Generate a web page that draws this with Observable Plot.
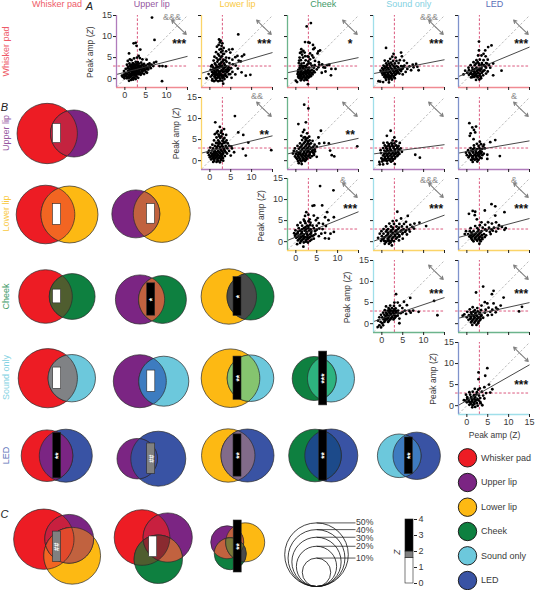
<!DOCTYPE html>
<html><head><meta charset="utf-8">
<script src="https://cdn.jsdelivr.net/npm/d3@7"></script>
<script src="https://cdn.jsdelivr.net/npm/@observablehq/plot@0.6"></script>
<style>html,body{margin:0;padding:0;background:#fff}#fig{position:relative;width:535px;height:590px;overflow:hidden}#fig svg{position:absolute;overflow:visible;max-width:none}</style>
</head><body><div id="fig"></div>
<script>
const regions=["Whisker pad","Upper lip","Lower lip","Cheek","Sound only","LED"];
const fills=["#ed1c24","#7b2583","#fdb913","#0e8040","#6cc8dc","#3953a4"];
const headColors=["#ee5a68","#96589f","#f9c93f","#3f9a68","#84d2e2","#5a70b8"];
const axisColors=["#f08a92","#b07cbc","#fbd468","#6cb48c","#a0dfea","#7f92cc"];

const p01=[6.5,14.5,7.1,9.2,2.1,8.4,2.6,8.5,2.8,7.8,3.7,6.9,1,6,3.3,5.4,2.9,5,3.6,4.9,1.2,4.6,.7,4.2,1.6,4.4,2.2,4.8,4.2,4.6,5.2,4.5,3.9,3.8,2.6,4,1.9,3.7,1.1,3.6,.5,3.3,3.1,3.9,2.4,3.4,1.5,3.1,.8,2.8,.2,2.3,-.2,1.8,-.7,.7,-.5,.4,-.1,.1,.3,.6,.6,1.1,.9,1.5,1.2,2.1,1.6,2.5,2,2.9,2.5,3,3,3.2,3.4,3,3.8,3.1,4.2,3.3,4.6,3.5,5,3.1,5.5,3.4,5.9,3.6,6.4,3.3,7,3.8,7.5,4,8.3,3,9,3,9.8,2.9,8.9,-.6,6.2,2.5,5.6,2.2,5.2,2.7,4.8,2,4.4,2.4,4,1.8,3.6,2.2,3.2,2.6,2.8,2,2.4,2.3,2,1.8,1.6,1.6,1.3,1.1,.9,.6,.5,.1,1,.2,1.4,.5,1.8,.9,2.2,1.3,2.6,1.5,3,1.2,3.4,1.6,3.8,.9,4.2,1.3,4.6,1.1,5,1.6,2,.3,2.4,.7,2.8,.5,3.2,.2,1.5,-.3,1,-.5,2,-.2,2.6,-.1,.2,1.3,1.8,2.2,2.2,2.7,2.9,2.5,3.3,1.9,3.7,1.4,1,2.4,1.4,1.9,4.5,2.9,1.7,3.3,2.2,3.2,6.8,3,5.3,1.4,1.15,1.75,1.75,1.25,2.35,1.75,2.95,1.55,3.45,2.35,3.95,2.65,4.35,1.85,1.05,.95,1.55,.75,2.15,.95,2.75,.85,3.35,1.05,.75,1.85,.35,.85,.05,.65,-.25,.95,1.35,2.85,1.85,2.65,2.55,2.55,3.05,2.95,3.65,2.75,4.15,2.15,4.75,2.55,5.35,2.25,5.75,2.85,6.05,3.05,2.05,3.55,2.85,3.45,3.35,3.55,1.25,3.15,.65,2.45,1.65,2.05,2.15,2.25,3.15,1.75,2.45,1.15,1.95,1.45,1.25,.35,1.75,-.05,2.35,.15,.65,.35];
const p02=[6.8,10.5,2.2,9.3,2.6,9,2.4,8.6,3,8.4,2.1,8,2.8,7.8,1.7,7.6,3.3,7.3,5.4,7,4.6,6.9,2.3,6.9,3.9,6.5,1.5,6.3,2.7,6.3,4.9,6.2,3.4,5.9,2,5.8,6.6,5.4,6.1,5.1,1.1,5.2,2.9,5.3,3.9,5,8.2,5.7,7.7,5.3,4.6,4.9,1.6,4.9,2.4,4.6,3.3,4.5,5.4,4.5,.9,4.3,6.9,4.3,7.4,4.1,4,4,1.8,4,2.8,3.9,3.4,3.6,4.7,3.7,1.2,3.6,.5,3.2,2.2,3.4,5.5,3.4,6.2,3.1,2.9,3.1,1.6,3,3.9,2.9,.8,2.7,4.5,2.7,5.1,2.5,6.7,2.4,2.3,2.6,1.2,2.3,.2,2.1,3.3,2.3,3.9,2.1,1.8,2.1,2.8,2,4.4,1.8,5.4,1.6,.5,1.6,1.3,1.5,2.2,1.6,3.2,1.5,7.6,1.5,-.3,1.1,.8,1.1,1.7,1,2.6,1.1,3.7,1.1,4.9,1.1,6.1,1,8.6,.7,9.7,.9,.2,.5,1.1,.5,2,.5,3,.6,4.1,.4,5.2,.2,-.8,.1,.6,-.1,1.5,0,2.5,0,3.5,-.1,1,-.6,2,-.6,3,-.5,3.2,-1.2,1.6,1.9,2.6,2.8,3.6,3.2,.3,2.9,1.2,1,2.1,1.2,3,.2,1.8,.2,2.4,.7,1.05,1.85,1.55,1.45,2.05,1.85,2.55,1.65,3.05,1.85,3.55,1.75,4.05,1.55,1.35,.75,1.85,.75,2.35,.85,2.85,.85,3.35,.75,3.85,.65,.55,.85,.95,1.35,1.45,2.55,1.95,2.75,2.45,3.15,3.05,2.65,3.55,2.65,4.25,2.35,4.65,2.15,.75,2.15,1.35,3.35,2.55,3.65,3.15,4.25,3.75,4.35,1.95,4.45,2.65,5.05,2.25,5.45,3.15,5.85,2.65,7.05,3.05,6.65,1.25,.25,2.25,.25,3.25,.35,.55,-.45,1.45,-.35,2.45,-.45,4.55,1.05];
const p03=[3.6,13.2,2.6,12.4,3,8.6,2.2,8.7,3.3,8.5,4.1,8,4.5,7.3,5.8,6.7,5.4,6.5,1.3,7,1.8,6.6,4.2,7,5.2,6,2.1,6.2,1,6.1,3.4,6,1.5,5.7,2.8,5.3,3.9,5.5,.9,5,1.7,5,4.2,5,.8,4.3,1.2,4.4,3.4,4.6,3,4.1,4.6,4.2,5.5,3.9,.7,3.7,1.9,3.7,3.5,3.6,1,3.1,2,3,2.7,3.3,3.8,3.1,4.5,3.2,5.6,3.3,6.3,3.4,8,3.3,7.5,3.2,.9,2.6,1.6,2.6,2.5,2.7,3.2,2.6,4.3,2.6,5.4,2.7,6.6,2.7,7,2.6,8.5,2.3,9.5,2.3,.6,2.1,1.3,2.1,2.2,2.2,3,2.1,3.8,2.1,5,2.2,.5,1.6,1.1,1.6,1.9,1.6,2.7,1.6,3.5,1.6,4.5,1.5,6.2,1.4,8.4,.8,7.1,1.7,.4,1.1,.9,1.1,1.6,1.1,2.4,1.1,3.1,1.1,4,1,.6,.6,1.3,.6,2,.6,2.8,.6,3.6,.6,.9,.1,1.6,.2,2.3,.1,3,.2,0,-.5,.3,-.8,1.2,-.4,2,-.4,2.7,-.3,2.9,-1.3,1.8,2.5,2.9,1.9,1.35,1.85,1.75,2.35,2.35,1.85,2.85,2.35,3.35,1.85,1.15,1.35,1.65,1.35,2.15,1.35,2.65,1.35,3.15,1.35,3.75,1.25,.75,.85,1.25,.85,1.85,.85,2.55,.85,3.35,.85,1.05,.35,1.85,.35,2.55,.35,3.25,.45,.6,1.85,1,2.35,1.45,2.95,2.35,2.95,3.05,3.65,2.35,4.35,1.35,3.55,2.25,5.35,3.05,5.15,1.35,6.35,.65,.25,4.25,1.85,4.05,1.45,1.45,-.05,2.45,-.15];
const p04=[1,7.3,2.8,5.9,4.6,6.2,4.8,5.3,2.5,5.2,3.3,5,2,4.7,4.3,4.4,.7,4.3,1.5,4.1,2.7,4.2,3.5,4.2,5.3,4.3,2.2,3.8,3.1,3.6,4,3.7,6,3.7,7.4,3.3,8.2,3.5,.4,3.1,1.2,3.2,1.9,3.1,2.8,3,3.5,3,4.6,3,5.4,3.1,6.6,2.9,7.6,2.7,8.5,2.8,8.8,2,6.1,2.3,5,2.4,4.2,2.4,.1,2.5,.8,2.5,1.5,2.5,2.3,2.4,3.1,2.4,3.7,2.1,7,2,-.3,1.9,.4,1.9,1.1,2,1.8,1.9,2.6,1.9,4.6,1.8,5.7,1.6,0,1.4,.7,1.4,1.4,1.4,2.1,1.4,2.9,1.4,3.6,1.4,4.2,1.2,.2,.9,.9,.9,1.6,.9,2.4,.9,3.2,.9,5,1,.6,.4,1.3,.4,2,.4,2.8,.4,-.4,-.7,.3,-.8,1,-.3,1.7,-.2,2.4,-.2,3.1,.1,1.7,-.9,-.8,-.6,3.4,1.9,5.1,2.9,1.15,2.75,1.65,2.15,2.05,2.75,2.55,2.15,3.05,2.75,3.35,2.25,1.05,1.65,1.45,1.15,1.95,1.65,2.45,1.15,3.05,1.65,3.45,1.15,.55,1.15,.35,1.55,.75,.65,1.15,.65,1.75,.65,2.25,.65,2.85,.65,.9,.15,1.6,.15,2.25,.15,1.75,3.55,2.45,3.35,1.05,3.65,.35,2.25,.65,2.85,3.85,2.75,4.25,2.05,4.75,2.25,3.85,1.55];
const p05=[2.9,8.8,5.9,7.9,5.1,7.5,4.4,6.7,4,5.9,2.9,6.7,2.7,5.5,3.5,5.5,4.5,5.3,2.3,4.4,3.1,4.5,4,4.4,5,4.5,1.6,3.9,2.6,3.9,3.6,3.7,4.6,3.7,6.3,3.6,.9,3.2,1.9,3.2,3,3.2,4.1,3.2,5.3,3.2,.4,2.6,1.3,2.6,2.3,2.6,3.5,2.6,4.6,2.6,5.6,2.6,-.4,1.9,.5,2,1.4,2,2.5,2,3.2,1.9,4.2,2,5,1.7,8.3,1.9,.1,1.4,1,1.4,1.9,1.4,2.7,1.4,3.6,1.4,4.6,1.2,-.8,1,.5,.9,1.3,.9,2.1,.9,3,.8,3.9,.8,6.3,.8,1,.3,1.8,.4,2.6,.3,3.4,.1,2.2,-.3,3,-.2,2.9,2.3,1.7,1.7,1.15,1.85,1.85,2.25,2.35,1.75,2.85,2.15,3.45,2.25,3.85,1.75,1.55,1.05,2.35,1.15,3.15,1.15,.75,1.15,1.85,.65,2.45,.6,3.3,.5,2.85,3.55,3.55,3.35,4.35,2.95,4.85,3.55,2.15,3.55,1.35,.35];
const p12=[6,10.6,1.3,9.1,3.4,7.5,2.4,8,1.9,7,2.8,7.1,6.8,6.7,8,6.1,1.2,6.3,2.1,6.2,3.1,6.3,3.9,6.1,1.6,5.5,2.5,5.4,3.5,5.4,9.2,4.3,1,4.8,2,4.8,3,4.7,4,4.8,1.5,4.2,2.5,4.1,3.4,4.2,4.3,4.1,.6,3.8,1.2,3.5,2,3.5,2.9,3.5,3.8,3.5,4.6,3.5,5.1,3.4,.1,3.1,.8,2.9,1.6,2.9,2.4,2.9,3.3,2.9,4.2,2.9,5.3,2.9,7.9,2.8,-.2,2.4,.5,2.4,1.2,2.3,2,2.3,2.8,2.3,3.6,2.3,4.6,2.3,5.8,2,14.7,2.5,-.5,1.9,.2,1.8,.9,1.8,1.6,1.8,2.4,1.8,3.2,1.7,4.1,1.7,-.2,1.3,.5,1.3,1.2,1.3,2,1.3,2.8,1.2,3.6,1.1,8.6,1.2,0,.8,.8,.8,1.5,.8,2.3,.7,3.1,.6,.3,.3,1,.3,1.8,.2,2.6,.1,.8,-.3,1.6,-.3,2.4,-.4,3.2,0,5,1.2,1.05,2.05,1.55,2.05,2.25,2.05,2.65,2.55,3.05,2.05,3.45,2.55,.65,1.55,1.25,1.55,1.85,1.55,2.65,1.55,3.05,1.45,3.75,2.05,.35,1.05,.95,1.05,1.65,1.05,2.35,1.05,2.95,.85,.65,.55,1.25,.55,1.95,.55,2.65,.45,1.05,-.05,1.95,-.05,1.65,3.25,2.45,3.25,3.15,3.25,3.95,3.15,2.1,3.95,2.95,3.95,3.75,4.35,2.25,4.45,1.75,4.15,3.25,4.55,2.75,5.75,2.25,5.75,3.25,5.15,1.65,6.65,2.65,6.65];
const p13=[2,13.3,3,12.4,.6,8.7,2.4,9.1,6,7.1,2,7.3,1.7,6.8,2.7,6.5,1.3,5.9,2.2,5.6,3.2,5.7,5.4,5.5,1.5,4.9,2.5,4.8,3.3,4.8,4,4.7,5.6,4.1,6.8,4.2,7.9,4.1,1,4.1,1.9,4.1,2.8,4.1,3.6,4.1,4.5,3.8,.4,3.5,1.3,3.4,2.3,3.4,3.2,3.4,4.2,3.3,5,3.3,14.7,3.4,-.2,2.9,.7,2.8,1.6,2.8,2.6,2.8,3.5,2.8,4.5,2.7,-.5,2.3,.2,2.2,1.1,2.2,2,2.2,2.9,2.2,3.8,2.2,8.2,2.4,-.7,1.7,0,1.6,.8,1.6,1.6,1.6,2.4,1.6,3.3,1.6,4.3,1.7,8.6,1.3,9.2,1,-.2,1,.6,1,1.4,1,2.2,1,3,1,3.9,1.1,.3,.4,1.1,.4,1.9,.4,2.7,.5,.5,-.1,1.3,-.2,2.2,-.1,.7,-.6,1.4,-.8,5,.9,4.6,2.2,1.05,1.85,1.95,1.85,2.65,1.95,3.35,1.95,4.05,1.95,.45,1.35,1.15,1.35,1.85,1.3,2.55,1.3,3.25,1.3,.05,.7,.75,.7,1.65,.7,2.45,.7,3.45,.7,.9,.1,1.7,.1,2.45,.2,.45,1.95,1.35,2.45,2.35,2.55,3.05,2.55,4.05,2.45,1.05,3.15,1.95,3.05,2.85,3.05,3.75,3.05,1.55,3.75,2.55,3.75,3.25,3.95,2.15,4.45,2.95,4.55,2.35,5.05,1.85,5.45,2.75,5.35,4.35,1.35];
const p14=[2.1,7.1,1.2,5.9,3,5.5,2.6,4.8,3.4,4.6,.4,4.2,1.3,4.3,2.3,4.2,3,4.1,4.3,4.2,.7,3.6,1.6,3.6,2.5,3.5,3.4,3.6,4,3.5,.3,3,1,3,1.9,3,2.8,3,3.7,2.9,4.5,2.9,-.3,2.5,.6,2.4,1.4,2.4,2.2,2.4,3.1,2.4,3.9,2.3,4.8,2.1,-.2,1.8,.9,1.8,1.7,1.8,2.6,1.8,3.4,1.7,4.2,1.6,.3,1.2,1.2,1.2,2,1.2,2.9,1.2,3.7,1.1,8,1.4,-.1,.6,.7,.6,1.5,.6,2.3,.6,3.1,.5,9.1,.7,.9,.1,1.8,.1,2.6,0,-.6,-.3,.1,-.2,-.5,-.9,.3,-.9,1.3,-.7,3.1,-.8,1.05,2.15,1.85,2.15,2.55,2.15,3.25,2.05,3.95,1.95,.55,1.55,1.35,1.55,2.25,1.55,3.05,1.55,3.85,1.35,.75,.95,1.55,.95,2.45,.95,3.25,.85,1.05,.35,2,.35,2.65,.35,1.25,2.75,2.05,2.7,3.15,2.7,4.15,2.6,1.15,3.35,2,3.35,2.85,3.35,3.75,3.25,.15,.3,.55,.1,1.2,-.1,2.2,-.25,2.4,3.95,1.7,3.95];
const p15=[.6,8.9,2.2,8.1,1.3,7.9,1.7,7.3,.9,6.5,2,6.7,.7,5.9,1.6,5.1,6.8,4.9,5.6,4.4,3.1,4.5,2.4,4,3.4,3.9,4.1,3.8,1.7,3.6,2.8,3.5,3.9,3.4,.9,3,1.8,3,3,3,3.7,2.8,4.3,2.9,.3,2.5,1.1,2.4,2.1,2.4,3.2,2.3,-.2,1.9,.6,1.9,1.5,1.9,2.5,1.8,3.4,1.8,0,1.3,.9,1.3,1.8,1.3,2.7,1.3,3.7,1.3,4.9,1.4,7.9,1.1,.4,.8,1.3,.7,2.2,.7,3.1,.7,1,.2,1.9,.2,2.8,.2,4.9,.4,1.4,-.3,2.5,-.2,1.4,2.1,2.15,2.05,2.9,2,3.55,2.1,.6,1.1,1.4,1.05,2.25,1.05,3,1.05,3.5,.6,1.6,.45,2.4,.4,1.5,2.75,2.4,2.75,3.25,2.65,1.25,.2,.8,1.55,2.1,1.6,3,1.55,4.05,1.65];
const p23=[5.8,13.2,9,12.2,6.3,8.6,4,8.5,4.4,8.6,2.5,7,7.5,7,3,6.4,2.2,6.1,4.3,6.2,7,5.8,9.1,5.8,5.2,5.6,1.9,5.2,3.3,5.3,7.8,5.1,4.8,5.1,1.1,4.5,2.3,4.4,3.5,4.5,5.5,4.4,6.5,4.2,.4,3.9,1.5,3.8,2.7,3.8,4,3.8,5,3.8,7.2,3.7,.7,3.2,1.9,3.2,3,3.2,4.3,3.2,5.6,3.1,6.4,3,-.1,2.7,1,2.6,2.1,2.6,3.2,2.6,4.6,2.5,9.1,2.3,8.3,1.9,7,2.1,6.1,1.9,-.4,2,.4,2,1.4,2,2.5,2,3.6,2,4.7,1.8,-.2,1.4,.7,1.4,1.7,1.4,2.8,1.4,3.9,1.3,5.5,1.3,7.9,.7,7,.8,.1,.9,1,.8,2,.8,3,.8,4.3,.7,.5,.3,1.4,.3,2.4,.3,3.4,.2,1,-.3,1.9,-.2,2.9,-.2,1.8,-1.2,.3,-.6,3,3.7,1.3,1.1,1.15,1.7,1.95,1.7,2.75,1.7,3.45,1.7,.45,1.15,1.25,1.15,2.25,1.1,3.35,1.05,.75,.55,1.7,.55,2.7,.55,3.75,.5,1.45,2.3,2.6,2.3,3.7,2.35,1.45,2.9,2.45,2.9,3.55,2.9,5,2.8,1.2,.05,2.4,0,4.25,1.5,.05,1.75,2.3,3.45,3.4,3.95,2.1,4.85,3.05,4.85,2.75,1,1.9,1.05,.5,2.35];
const p24=[3.7,7.1,6.2,6.1,4.6,5.5,2.6,4.9,3.5,5,5.8,4.7,9,4.5,7.8,4.3,1.8,4.3,2.9,4.2,4.2,4.2,5.3,4.2,6.8,4,10.6,3.7,1,3.6,2.2,3.6,3.5,3.6,4.8,3.6,6,3.5,7.3,3.5,.4,3,1.5,3,2.7,3,3.9,3,5.2,3,6.5,2.9,7.7,3.1,-.1,2.5,1,2.4,2.1,2.4,3.2,2.4,4.4,2.4,5.6,2.3,6.7,2.4,-.5,1.9,.4,1.9,1.5,1.9,2.6,1.9,3.7,1.9,4.9,1.8,6,1.7,-.9,.9,0,1.3,1,1.3,2,1.3,3.1,1.3,4.2,1.2,.4,.7,1.4,.7,2.4,.7,3.4,.7,-.2,.2,.9,.1,1.9,.1,2.9,.1,4.1,.3,.7,-.5,1.7,-.5,2.4,-.9,5,.7,1.35,1.6,2.25,1.6,3.2,1.6,4.15,1.55,.6,1,1.7,1,2.7,1,3.7,1,.5,.2,1.45,.2,2.4,.3,1.5,2.15,2.6,2.15,3.75,2.15,5,2.1,1.2,2.75,2.25,2.7,3.45,2.7,4.7,2.7,5.8,2.7,2.6,3.35,4.1,3.3,1.55,.55,1,-.1,2.1,-.2,.1,.6];
const p25=[5.9,8.9,9,7,6.8,8.4,.5,6.6,1.4,7.3,2,7.1,1.9,6.3,4.3,7.4,6.8,6.2,2.4,5.3,3.5,4.6,5.1,4.6,7,4.6,6,4.3,4.4,4,3.1,3.9,2,3.7,7.7,3.9,8.4,3.5,9.3,3.2,.9,3.2,2.5,3.2,3.8,3.3,5.3,3.3,6.5,3.3,7.5,3.1,9,2.8,-.2,2.5,.7,2.5,1.6,2.5,2.6,2.4,3.5,2.5,4.7,2.6,6.2,2.6,7,2.4,-.5,1.8,.3,1.8,1.2,1.8,2,1.8,3,1.9,4.1,1.8,5.7,1.8,.6,1.2,1.4,1.2,2.3,1.2,3.2,1.2,4.3,1.1,1.1,.7,1.9,.7,2.8,.7,3.7,.6,1.6,.1,2.5,.2,3.3,.1,3,-.5,.9,1.55,1.7,1.5,2.6,1.55,3.6,1.55,4.6,1.5,1,.95,2,.95,2.95,1,3.7,.95,1.3,.4,2.3,.45,3.1,.45,1.1,2.15,2.3,2.1,3.3,2.2,5.5,2.3,5.9,2.9,4.4,2.9,2.8,2.8];
const p34=[3.4,7,6.8,6.1,5.3,5.2,3,5,3.8,5,6,4.4,2,4.3,1,4.1,2.9,4.2,4.3,4.3,1.6,3.7,2.4,3.7,3.3,3.6,4.9,3.7,.7,3.2,1.4,3.1,2.2,3.1,3,3.1,3.9,3.1,5.5,3.1,6.6,3,7.5,3.1,12.5,5.4,13.3,2,8.8,2.8,6.9,2.6,.3,2.6,1,2.6,1.8,2.6,2.6,2.6,3.4,2.6,4.5,2.5,5.8,2.3,-.2,2.1,.6,2.1,1.3,2.1,2.1,2.1,2.9,2,3.8,1.9,-.6,1.5,.1,1.5,.9,1.6,1.6,1.6,2.4,1.5,3.2,1.5,4.2,1.2,.4,1,1.2,1,2,1,2.8,1,-.9,.7,-.3,.4,.6,.4,1.5,.4,4.2,.1,-.6,-.4,.3,-.4,-1,-.8,-.2,-.9,.7,1.25,1.4,1.3,2.2,1.25,3,1.3,.9,1.85,1.7,1.85,2.5,1.85,3.4,1.8,1.25,2.35,2.1,2.4,3,2.35,3.9,2.45,1.85,2.9,2.6,2.9,3.4,2.95,2.9,3.4,1.85,3.4,.8,.75,1.7,.7,.1,.1,5,2.75];
const p35=[3.9,8.8,2.2,7.4,6.4,7.8,6,7,8.8,6.2,4.3,5.1,4.9,4.8,6.4,4.8,8.1,4.3,13.2,4,12.5,2.9,3.5,4.3,1.4,3.9,2.5,3.7,5.2,3.8,7,3.8,.7,3.4,1.9,3.2,3.4,3.2,4.5,3.3,6.1,3.3,7.4,3.4,.1,2.8,1,2.7,2.1,2.6,3.1,2.6,4.3,2.6,5.6,2.8,6.9,2.7,-.6,2.2,.5,2,1.4,2,2.3,2,3.5,2,5,2,6,2.1,-1,1.9,0,1.5,1,1.4,1.9,1.4,2.8,1.4,3.9,1.4,.4,.9,1.3,.8,2.2,.8,3.1,.8,1,.3,1.8,.2,2.7,.1,1.3,-.3,2.3,-.3,.9,1.7,1.7,1.7,2.5,1.7,3.3,1.7,.8,1.15,1.6,1.1,2.45,1.1,3.3,1.1,1.2,.55,2,.5,2.8,.5,1.1,2.3,2,2.3,3,2.3,1.55,2.85,2.6,2.9];
const p45=[2.8,7.9,4.9,8.9,4.4,7.1,2.8,6.3,5.3,5,5.6,3.1,6.1,3.9,4.2,4.4,3.1,4.1,1.9,4,2.7,3.8,.6,3.2,1.4,3.3,2.4,3.2,3.6,3.3,4.6,3,-.2,2.6,.8,2.6,1.7,2.5,2.9,2.4,3.9,2.4,-.7,1.3,.1,2,1,2,2,2,3.2,1.8,4.2,1.7,-.4,1.2,.4,1.4,1.3,1.3,2.2,1.3,3.2,.9,0,.8,.8,.8,1.6,.7,2.4,.6,.6,.2,1.4,.1,2.6,0,3.7,.1,2,-.3,1.3,-.4,3.3,.6,1.1,1.65,1.8,1.6,2.55,1.6,.5,1,1.2,1,2,1,2.8,1.25,.1,1.6,.95,.45,1.8,.4,1.7,2.25,2.3,2.7];

// row, col, points, fit at x=-2, fit at x=15, significance, comparison
const panelRows=[0,0,0,0,0,1,1,1,1,2,2,2,3,3,4];
const panelCols=[1,2,3,4,5,2,3,4,5,3,4,5,4,5,5];
const panelPts=[p01,p02,p03,p04,p05,p12,p13,p14,p15,p23,p24,p25,p34,p35,p45];
const fitLeft=[1,1.3,1.4,1.2,.5,1.8,1.6,1.6,1.8,.3,.1,1,.5,1.3,.1];
const fitRight=[5.3,6.2,5,4.5,7.5,5.9,5.3,3.8,4.7,7.1,6.3,5.5,6.2,5,9.7];
const stars=["***","***","*","***","***","**","**","","","***","***","***","***","***","***"];
const amps=["&&&","","","&&&","","&&","","","&","&","&&&","&","","",""];
const ticks=[0,5,10,15];
const starY=[8.7,6.5,8.2,7.4,5.3];

// Venn data: percent of responsive sites per region pair and Z of the overlap
const vennA=[0,0,1,0,1,2,0,1,2,3,0,1,2,3,4];
const vennB=[1,2,2,3,3,3,4,4,4,4,5,5,5,5,5];
const pctA=[45,42.4,28.4,35.5,29.9,37.9,43.3,34.7,42.4,23.9,32.9,20.2,35.2,34.2,23.5];
const pctB=[27.3,40.1,40.1,25.9,28.2,27.3,27.7,30.9,26.8,27.3,34.7,37.3,34.7,34.7,27.7];
const vennZ=[1.19,1.29,1.23,.86,2.02,2.42,1.33,1.33,2.7,3.36,2.83,1.9,2.64,3.14,2.29];
const vennSig=["","","","","*","*","","","**","***","**","##","**","**","**"];
const lensColors=["#c4233f","#f26522","#c1623f","#4f5d2f","#c1623f","#4a4a4a","#808285","#3d7cc0","#85c46f","#2db37f","#7b2583","#3a4d9e","#826b8a","#1c4a8a","#3e7bbf"];
// layout of the Venn cells
const cellBarX=[56.5,56.5,150.5,56.5,150.7,237,56.7,150.8,237,322.7,56.7,150.7,237,322.7,408.3];
const cellAX=[46.7,45,135.3,45,139.5,228.3,47.3,139.3,230,313.7,46.5,136.7,227.7,314.5,398.7];
const cellBX=[73.5,69,161.3,71.7,162,250,71.3,163.3,250,330.5,65.3,157.8,247,330.8,416.2];
const cellY=[133,214,213.4,296,299,296,377.7,380.7,377.7,378,455.2,458.2,455,455,455.3];

// Triple Venns (panel C)
const tripleSets=[[0,1,2],[0,1,3],[1,2,3]];
const triplePct=[[45,29.4,39.8],[38.2,29.9,28.9],[13.4,18.8,12.6]];
const tripleZ=[1.9,1.29,3.25];
const tripleSig=["##","","**"];
const tripleLens=[["#c8203f","#f26522","#c1623f","#e2492c"],["#c8203f","#4f5d2f","#c1623f","#8a2a30"],["#c1623f","#c1623f","#4a4a4a","#7a7a3a"]];
const tripleX=[[43.3,68.7,71.7],[141.5,167.2,157.8],[226.7,244.7,229.7]];
const tripleY=[[538.7,538.3,555.3],[537,537,558.8],[541.7,541.8,553.3]];
const tripleBarX=[56.5,152.7,237.2];
const tripleBarY=[546.3,546.3,546];

const sizePct=[50,40,30,20,10];
const zSegments=[{from:0,to:1.6,fill:"#ffffff"},{from:1.6,to:2,fill:"#808080"},{from:2,to:4,fill:"#000000"}];
const FONT="'Liberation Sans',Arial,sans-serif";
const TXT="#3a3a3a";
const fig=document.getElementById("fig");

function rOf(p){return 31.8*Math.sqrt(p/50);}
function circlePoly(c){const n=120,a=[];for(let i=0;i<n;i++){const t=2*Math.PI*i/n;a.push([c.x+c.r*Math.cos(t),c.y+c.r*Math.sin(t)]);}return a;}
function clipToCircle(poly,c){
  const clipPoly=circlePoly(c);let out=poly;
  for(let i=0;i<clipPoly.length;i++){
    const a=clipPoly[i],b=clipPoly[(i+1)%clipPoly.length];
    const inside=p=>(b[0]-a[0])*(p[1]-a[1])-(b[1]-a[1])*(p[0]-a[0])>=0;
    const input=out;out=[];
    for(let j=0;j<input.length;j++){
      const p=input[j],q=input[(j+1)%input.length];
      const ip=inside(p),iq=inside(q);
      if(ip)out.push(p);
      if(ip!==iq){
        const d1=(b[0]-a[0])*(p[1]-a[1])-(b[1]-a[1])*(p[0]-a[0]);
        const d2=(b[0]-a[0])*(q[1]-a[1])-(b[1]-a[1])*(q[0]-a[0]);
        const t=d1/(d1-d2);out.push([p[0]+t*(q[0]-p[0]),p[1]+t*(q[1]-p[1])]);
      }
    }
    if(!out.length)break;
  }
  return out;
}
function overlap(cs){let poly=circlePoly(cs[0]);for(const c of cs.slice(1))poly=clipToCircle(poly,c);return poly;}

const discs=[],lenses=[],bars=[],barText=[];
const barColor=z=>z<1.6?"#ffffff":z<1.96?"#808080":"#000000";
function addBar(x,y,z,sig){
  const h=z*16;
  bars.push({x1:x-4,x2:x+4,y1:y-h/2,y2:y+h/2,fill:barColor(z)});
  if(sig)barText.push({x,y,t:sig});
}
vennA.forEach((a,i)=>{
  const b=vennB[i];
  const A={x:cellAX[i],y:cellY[i],r:rOf(pctA[i])},B={x:cellBX[i],y:cellY[i],r:rOf(pctB[i])};
  discs.push({x:A.x,y:A.y,p:pctA[i],fill:fills[a]},{x:B.x,y:B.y,p:pctB[i],fill:fills[b]});
  lenses.push({poly:overlap([A,B]),fill:lensColors[i]});
  addBar(cellBarX[i],cellY[i],vennZ[i],vennSig[i]);
});
tripleSets.forEach((s,i)=>{
  const cs=s.map((k,j)=>({x:tripleX[i][j],y:tripleY[i][j],r:rOf(triplePct[i][j])}));
  s.forEach((k,j)=>discs.push({x:cs[j].x,y:cs[j].y,p:triplePct[i][j],fill:fills[k]}));
  lenses.push({poly:overlap([cs[0],cs[1]]),fill:tripleLens[i][0]});
  lenses.push({poly:overlap([cs[0],cs[2]]),fill:tripleLens[i][1]});
  lenses.push({poly:overlap([cs[1],cs[2]]),fill:tripleLens[i][2]});
  lenses.push({poly:overlap(cs),fill:tripleLens[i][3]});
  addBar(tripleBarX[i],tripleBarY[i],tripleZ[i],tripleSig[i]);
});

// size key
const sizeX=316,sizeBottom=586;
const sizeCircles=sizePct.map(p=>({x:sizeX,y:sizeBottom-rOf(p),p}));
const sizeLabelY=[522,530,537.7,546,558];
const sizeLines=sizePct.map(p=>({x1:sizeX,x2:355,y:sizeBottom-2*rOf(p)}));
const sizeLabels=sizePct.map((p,i)=>({x:355.5,y:sizeLabelY[i],t:p+"%"}));

// legend
const legX=467,legY=[457.3,482,506.7,531,555.3,580];
const legendDots=regions.map((n,i)=>({x:legX,y:legY[i],fill:fills[i],t:n}));

const headX=[56.5,151.3,237,322.7,408.3,494];
const rowLabelY=[51,132.5,213,296,377,455];
const panelLetters=[{x:89,y:6,t:"A"},{x:4,y:107,t:"B"},{x:4,y:514,t:"C"}];
const yLabels=[{x:89.5,y:51.7},{x:175.5,y:133},{x:260.5,y:215.5},{x:346.5,y:297},{x:432.5,y:378.5}];

const base=Plot.plot({
  width:535,height:590,margin:0,
  x:{domain:[0,535],range:[0,535],axis:null},
  y:{domain:[0,590],range:[0,590],axis:null},
  r:{type:"sqrt",domain:[0,50],range:[0,31.8]},
  style:{background:"transparent",fontFamily:FONT,color:TXT},
  marks:[
    Plot.dot(discs,{x:"x",y:"y",r:"p",fill:"fill",stroke:"#2a2a2a",strokeWidth:.7}),
    ...lenses.map(l=>Plot.line(l.poly,{x:d=>d[0],y:d=>d[1],fill:l.fill,stroke:"#2a2a2a",strokeWidth:.7,curve:"linear-closed"})),
    Plot.rect(bars,{x1:"x1",x2:"x2",y1:"y1",y2:"y2",fill:"fill",stroke:"#2a2a2a",strokeWidth:.6}),
    Plot.text(barText,{x:"x",y:"y",text:"t",fill:"#fff",rotate:-90,fontSize:8.5,fontWeight:"bold",dx:1.5,filter:d=>d.t!=="##"}),
    Plot.text(barText,{x:"x",y:"y",text:"t",fill:"#fff",rotate:-90,fontSize:7.5,fontWeight:"bold",filter:d=>d.t==="##"}),
    Plot.dot(sizeCircles,{x:"x",y:"y",r:"p",stroke:"#111",strokeWidth:.8,fill:"none"}),
    Plot.link(sizeLines,{x1:"x1",x2:"x2",y1:"y",y2:"y",stroke:"#111",strokeWidth:.7}),
    Plot.text(sizeLabels,{x:"x",y:"y",text:"t",textAnchor:"start",fontSize:8.7,fill:TXT}),
    Plot.dot(legendDots,{x:"x",y:"y",r:9.2,fill:"fill",stroke:"#111",strokeWidth:.9}),
    Plot.text(legendDots,{x:d=>d.x+13.5,y:"y",text:"t",textAnchor:"start",fontSize:9,fill:TXT}),
    Plot.text(regions,{x:(d,i)=>headX[i],y:()=>4,text:d=>d,fontSize:9,fill:(d,i)=>headColors[i]}),
    Plot.text(regions,{x:()=>5.5,y:(d,i)=>rowLabelY[i],text:d=>d,fontSize:9,rotate:-90,fill:(d,i)=>headColors[i]}),
    Plot.text(panelLetters,{x:"x",y:"y",text:"t",fontSize:11,fontStyle:"italic",fill:"#222"}),
    Plot.text(yLabels,{x:"x",y:"y",text:()=>"Peak amp (Z)",fontSize:8.5,rotate:-90,fill:TXT}),
    Plot.text([{x:494,y:435}],{x:"x",y:"y",text:()=>"Peak amp (Z)",fontSize:8.5,fill:TXT}),
    Plot.text([{x:396.7,y:551.7}],{x:"x",y:"y",text:()=>"Z",fontSize:8.5,rotate:-90,fontStyle:"italic",fill:TXT})
  ]
});
base.style.left="0";base.style.top="0";
fig.appendChild(base);

// Z key
const zKey=Plot.plot({
  width:40,height:72,marginLeft:5,marginRight:27,marginTop:4,marginBottom:4,
  x:{domain:[0,1],axis:null},y:{domain:[0,4]},
  style:{background:"transparent",fontFamily:FONT,fontSize:"9px",color:TXT},
  marks:[
    Plot.rectY(zSegments,{x1:()=>0,x2:()=>1,y1:"from",y2:"to",fill:"fill",stroke:"#222",strokeWidth:.6}),
    Plot.axisY({anchor:"right",ticks:[0,1,2,3,4],tickSize:3,tickPadding:2,label:null,tickFormat:d=>d,stroke:"#222"})
  ]
});
zKey.style.left="400px";zKey.style.top="515.3px";
fig.appendChild(zKey);

// Scatter panels
const rowTop=[15,96.7,178.3,260.3,342],colLeft=[0,116,201,287,372.7,458];
const ML=24,MR=5,MT=3,MB=14,PW=71,PH=72;
const firstInRow=[1,2,3,4,5];
panelPts.forEach((flat,i)=>{
  const r=panelRows[i],c=panelCols[i],labeled=firstInRow[r]===c;
  const pts=[];for(let k=0;k<flat.length;k+=2)pts.push({x:flat[k],y:flat[k+1]});
  const xFmt=labeled?(d=>(d===15&&r<4)?"":d):(()=>"");
  const yFmt=labeled?(d=>d):(()=>"");
  const marks=[
    Plot.ruleX([3],{stroke:"#d6456f",strokeWidth:.9,strokeDasharray:"2.6,1.8",y1:-2.1,y2:15}),
    Plot.ruleY([3],{stroke:"#d6456f",strokeWidth:.9,strokeDasharray:"2.6,1.8",x1:-2.7,x2:15}),
    Plot.link([{a:-2,b:15}],{x1:"a",y1:"a",x2:"b",y2:"b",stroke:"#a8a8a8",strokeWidth:.8,strokeDasharray:"2.4,2"}),
    Plot.arrow([{x1:12.95,y1:12.2,x2:11.2,y2:13.9},{x1:12.95,y1:12.2,x2:14.7,y2:10.5}],{x1:"x1",y1:"y1",x2:"x2",y2:"y2",stroke:"#808080",strokeWidth:1.1,headLength:6,bend:0}),
    Plot.dot(pts,{x:"x",y:"y",r:1.4,fill:"#000"}),
    Plot.link([{x1:-2,y1:fitLeft[i],x2:15,y2:fitRight[i]}],{x1:"x1",y1:"y1",x2:"x2",y2:"y2",stroke:"#333",strokeWidth:.9}),
    Plot.ruleX([-2],{stroke:axisColors[c],strokeWidth:1.3,y1:-2.1,y2:15}),
    Plot.ruleY([-2.1],{stroke:axisColors[r],strokeWidth:1.3,x1:-2,x2:15}),
    Plot.axisX({ticks,anchor:"bottom",tickSize:3,tickPadding:1,label:null,stroke:"#222",tickFormat:xFmt}),
    Plot.axisY({ticks,anchor:"left",tickSize:3,tickPadding:1.5,label:null,stroke:"#222",tickFormat:yFmt})
  ];
  if(stars[i])marks.push(Plot.text([{x:13,y:starY[r],t:stars[i]}],{x:"x",y:"y",text:"t",fontSize:12,fontWeight:"bold",fill:"#111",dy:2}));
  if(amps[i])marks.push(Plot.text([{x:11.3,y:r===1?15.4:14.7,t:amps[i]}],{x:"x",y:"y",text:"t",fontSize:9,fill:"#8a8a8a"}));
  const svg=Plot.plot({
    width:ML+PW+MR,height:MT+PH+MB,marginLeft:ML,marginRight:MR,marginTop:MT,marginBottom:MB,
    x:{domain:[-2,15]},y:{domain:[-2.1,15]},
    style:{background:"transparent",fontFamily:FONT,fontSize:"9px",color:TXT},
    marks
  });
  svg.style.left=(colLeft[c]-ML)+"px";svg.style.top=(rowTop[r]-MT)+"px";
  fig.appendChild(svg);
});

fig.querySelectorAll("text").forEach(t=>{
  if(t.textContent==="Peak amp (Z)"&&t.getAttribute("transform")&&t.getAttribute("transform").includes("rotate")){
    t.innerHTML='Peak amp (<tspan font-style="italic">Z</tspan>)';
  }
});
</script></body></html>
